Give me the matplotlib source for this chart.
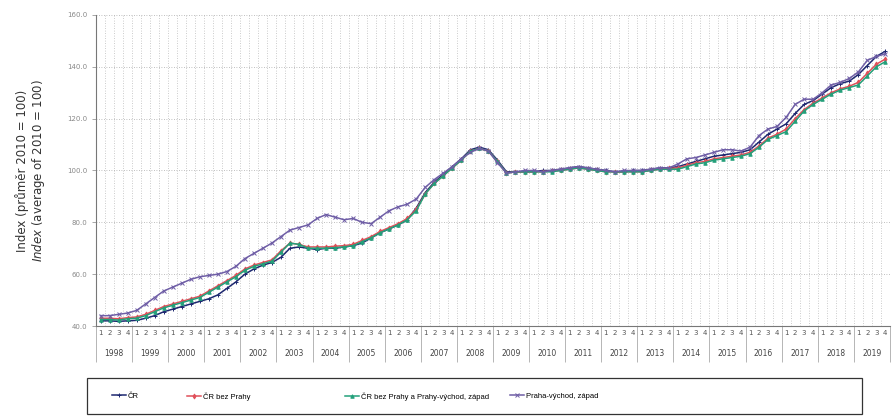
import numpy as np
import matplotlib.pyplot as plt
import matplotlib.transforms as mtrans
from matplotlib.patches import Rectangle

years = list(range(1998, 2020))
quarters = ["1", "2", "3", "4"]

cr = [42.0, 42.0, 41.8, 42.0,  42.2, 43.0, 44.0, 45.5,  46.5, 47.5, 48.5, 49.5,
      50.5, 52.0, 54.5, 57.0,  60.0, 62.0, 63.5, 64.5,  66.5, 70.0, 70.5, 70.0,
      69.5, 70.0, 70.0, 70.5,  71.0, 72.0, 74.0, 76.0,  77.5, 79.0, 81.0, 85.5,
      91.5, 95.5, 98.5, 101.5,  104.5, 108.0, 109.0, 108.0,  104.0, 99.5, 99.5, 99.5,
      99.5, 100.0, 100.0, 100.5,  101.0, 101.5, 101.0, 100.5,  100.0, 99.5, 99.5, 100.0,
      100.0, 100.5, 101.0, 101.0,  101.5, 102.5, 103.5, 104.5,  105.5, 106.0, 106.5, 107.0,
      108.0, 111.0, 114.0, 116.0,  118.0, 122.0, 125.5, 127.0,  129.5, 132.0, 133.5, 134.5,
      137.0, 140.5, 144.0, 146.0]

cr_bez_prahy = [43.0, 43.0, 42.8, 43.2,  43.5, 44.5, 46.0, 47.5,  48.5, 49.5, 50.5, 51.5,
                53.5, 55.5, 57.5, 59.5,  62.0, 63.5, 64.5, 65.5,  69.0, 72.0, 71.5, 70.5,
                70.5, 70.5, 70.8, 71.0,  71.5, 73.0, 74.5, 76.5,  78.0, 79.5, 81.5, 85.0,
                91.0, 95.0, 98.0, 101.0,  104.0, 107.5, 108.5, 107.5,  103.5, 99.0, 99.5, 99.5,
                99.5, 99.5, 99.8, 100.0,  100.5, 101.0, 100.5, 100.0,  99.5, 99.5, 99.5, 99.5,
                99.5, 100.0, 100.5, 100.8,  101.0, 102.0, 103.0, 103.5,  104.5, 105.0, 105.5, 106.0,
                107.0, 109.5, 112.5, 114.0,  116.0, 120.0, 123.5, 126.0,  128.0, 130.0, 131.5, 132.5,
                134.0, 137.5, 141.0, 143.0]

cr_bez_prahy_pv = [42.5, 42.5, 42.3, 42.8,  43.0, 44.0, 45.5, 47.0,  48.0, 49.0, 50.0, 51.0,
                   53.0, 55.0, 57.0, 59.0,  61.5, 63.0, 64.0, 65.0,  68.5, 72.0, 71.5, 70.0,
                   70.0, 70.0, 70.2, 70.5,  71.0, 72.5, 74.0, 76.0,  77.5, 79.0, 81.0, 84.5,
                   91.0, 95.0, 98.0, 101.0,  104.0, 107.5, 108.5, 107.5,  103.5, 99.0, 99.5, 99.5,
                   99.5, 99.5, 99.5, 100.0,  100.5, 101.0, 100.5, 100.0,  99.5, 99.5, 99.5, 99.5,
                   99.5, 100.0, 100.5, 100.5,  100.5, 101.5, 102.5, 103.0,  104.0, 104.5, 105.0, 105.5,
                   106.5, 109.0, 112.0, 113.5,  115.0, 119.0, 123.0, 125.5,  127.5, 129.5, 131.0, 132.0,
                   133.0, 136.5, 140.0, 142.0]

praha_vz = [44.0, 44.0, 44.5, 45.0,  46.0, 48.5, 51.0, 53.5,  55.0, 56.5, 58.0, 59.0,
            59.5, 60.0, 61.0, 63.0,  66.0, 68.0, 70.0, 72.0,  74.5, 77.0, 78.0, 79.0,
            81.5, 83.0, 82.0, 81.0,  81.5, 80.0, 79.5, 82.0,  84.5, 86.0, 87.0, 89.0,
            93.5, 96.5, 99.0, 101.5,  104.5, 107.0, 108.5, 107.5,  103.0, 99.0, 99.5, 100.0,
            100.0, 99.5, 100.0, 100.5,  101.0, 101.5, 101.0, 100.5,  100.0, 99.5, 100.0, 100.0,
            100.0, 100.5, 101.0, 101.0,  102.5, 104.5, 105.0, 106.0,  107.0, 108.0, 108.0, 107.5,
            109.0, 113.5, 116.0, 117.0,  120.5, 125.5, 127.5, 127.5,  130.0, 133.0, 134.0, 135.5,
            138.0, 142.5, 144.0, 145.0]

labels = ["ČR", "ČR bez Prahy", "ČR bez Prahy a Prahy-východ, západ", "Praha-východ, západ"]
colors = ["#1e2870", "#e0505a", "#22a07a", "#6f5ea6"]
markers = ["+", "d", "^", "x"]
legend_x = [112, 187, 345, 510]  # pixel positions of legend entries

fig = plt.figure(figsize=(8.93, 4.16), dpi=100)
ax = fig.add_axes([0.1075, 0.2163, 0.889, 0.7477])

x = np.arange(len(cr))
handles = []
for series, lab, col, mk in zip([cr, cr_bez_prahy, cr_bez_prahy_pv, praha_vz], labels, colors, markers):
    h, = ax.plot(x, series, color=col, lw=1.1, marker=mk, ms=2.5, mew=0.7, label=lab)
    handles.append(h)

ax.set_xlim(-0.5, len(cr) - 0.5)
ax.set_ylim(40, 160)
ax.set_yticks(np.arange(40, 161, 20))
ax.set_yticklabels([f"{v:.1f}" for v in np.arange(40, 161, 20)], fontsize=5, color="#888888")

# quarter labels as minor ticks, year boundaries as long major ticks
ax.set_xticks(np.arange(-0.5, len(cr), 4))
ax.set_xticklabels([])
ax.tick_params(axis="x", which="major", length=26, color="#aaaaaa", width=0.6)
ax.set_xticks(x, minor=True)
ax.set_xticklabels(quarters * len(years), minor=True, fontsize=5, color="#555555")
ax.tick_params(axis="x", which="minor", length=0, pad=3)
ax.tick_params(axis="y", length=3, color="#999999", width=0.6)

trans = mtrans.blended_transform_factory(ax.transData, ax.transAxes)
for k, yr in enumerate(years):
    ax.text(4 * k + 1.5, -0.088, str(yr), transform=trans, ha="center", va="center",
            fontsize=5.5, color="#444444")

ax.grid(True, axis="y", color="#aaaaaa", ls=(0, (1, 2)), lw=0.6)
for xv in np.arange(0.5, len(cr) - 1, 1):
    ax.axvline(xv, color="#bbbbbb", ls=(0, (1, 2)), lw=0.6, zorder=0)

for side in ["top", "right"]:
    ax.spines[side].set_visible(False)
ax.spines["left"].set_color("#777777")
ax.spines["bottom"].set_color("#777777")

ax.text(-0.093, 0.5, "Index (průměr 2010 = 100)", transform=ax.transAxes, rotation=90,
        ha="center", va="center", fontsize=8.5, color="#333333")
ax.text(-0.073, 0.5, "$\\it{Index}$ (average of 2010 = 100)", transform=ax.transAxes, rotation=90,
        ha="center", va="center", fontsize=8.5, color="#333333")

fig.patches.append(Rectangle((0.097, 0.006), 0.868, 0.086, transform=fig.transFigure,
                             fill=False, edgecolor="#333333", lw=0.9))
for h, px in zip(handles, legend_x):
    fig.legend(handles=[h], loc="center left", bbox_to_anchor=(px / 893, 0.047),
               prop={"family": ["Liberation Sans", "DejaVu Sans"], "size": 5.5},
               frameon=False, handlelength=1.8, handletextpad=0.3,
               borderpad=0, borderaxespad=0)

fig.savefig("out.png", dpi=100)
